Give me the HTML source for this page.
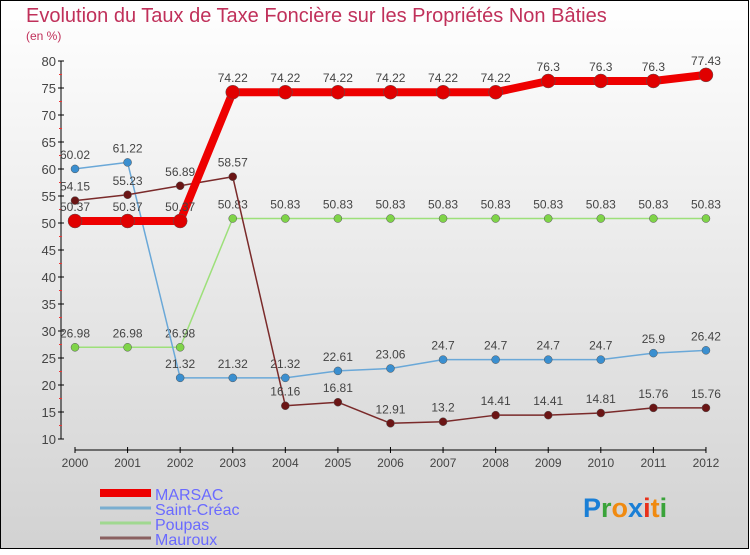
<!DOCTYPE html>
<html><head><meta charset="utf-8"><style>
html,body{margin:0;padding:0}
body{width:750px;height:550px;overflow:hidden;font-family:"Liberation Sans",sans-serif}
</style></head><body>
<svg width="750" height="550" xmlns="http://www.w3.org/2000/svg">
<defs><linearGradient id="bg" x1="0" y1="0" x2="0" y2="1"><stop offset="0" stop-color="#ffffff"/><stop offset="1" stop-color="#d2d2d2"/></linearGradient></defs>
<rect x="0.5" y="0.5" width="748" height="548" fill="url(#bg)" stroke="#000"/>
<text x="26" y="22" font-size="20" fill="#c0305a">Evolution du Taux de Taxe Foncière sur les Propriétés Non Bâties</text>
<text x="26" y="40" font-size="12" fill="#c0305a">(en %)</text>
<g id="axes"></g>
<g id="series"></g>
<g id="legend"></g>
<text x="583" y="517" font-size="27" font-weight="bold"><tspan fill="#1a7fd6">P</tspan><tspan fill="#3aa33a">r</tspan><tspan fill="#f08a10">o</tspan><tspan fill="#1a7fd6">x</tspan><tspan fill="#e8301a">i</tspan><tspan fill="#f08a10">t</tspan><tspan fill="#3aa33a">i</tspan></text>
</svg>
<script>
const years=[2000,2001,2002,2003,2004,2005,2006,2007,2008,2009,2010,2011,2012];
const yTicks=[10,15,20,25,30,35,40,45,50,55,60,65,70,75,80];
const marsac=[50.37,50.37,50.37,74.22,74.22,74.22,74.22,74.22,74.22,76.3,76.3,76.3,77.43];
const saintCreac=[60.02,61.22,21.32,21.32,21.32,22.61,23.06,24.7,24.7,24.7,24.7,25.9,26.42];
const poupas=[26.98,26.98,26.98,50.83,50.83,50.83,50.83,50.83,50.83,50.83,50.83,50.83,50.83];
const mauroux=[54.15,55.23,56.89,58.57,16.16,16.81,12.91,13.2,14.41,14.41,14.81,15.76,15.76];
const NS="http://www.w3.org/2000/svg";
const xs=i=>75+i*52.58;
const ys=v=>61+(80-v)*5.4;
function mk(tag,attrs,parent,txt){const e=document.createElementNS(NS,tag);for(const k in attrs)e.setAttribute(k,attrs[k]);if(txt!==undefined)e.textContent=txt;parent.appendChild(e);return e;}
const ax=document.getElementById('axes');
let yl=mk('line',{x1:61,y1:ys(80),x2:61,y2:ys(10),stroke:'#000'},ax);


yTicks.forEach(v=>{
 mk('line',{x1:58,x2:64,y1:ys(v),y2:ys(v),stroke:'#000'},ax);
 if(v<80)mk('line',{x1:59,x2:62,y1:ys(v+2.5),y2:ys(v+2.5),stroke:'#e33'},ax);
 const t=mk('text',{x:56,y:ys(v)+5,'font-size':13,'text-anchor':'end',fill:'#444'},ax,v);
 
 
});
let xl=mk('line',{x1:75,y1:450,x2:xs(12),y2:450,stroke:'#000'},ax);


years.forEach((y,i)=>{
 mk('line',{x1:xs(i),x2:xs(i),y1:447,y2:453,stroke:'#000'},ax);
 const t=mk('text',{x:xs(i),y:467,'font-size':12,'text-anchor':'middle',fill:'#444'},ax,y);
 
 
});
const sg=document.getElementById('series');
function series(data,name,color,w,r,dot){
 const g=mk('g',{},sg);
 
 
 const p=mk('polyline',{points:data.map((v,i)=>xs(i)+','+ys(v)).join(' '),fill:'none',stroke:color,'stroke-width':w,'stroke-linejoin':'round'},g);
 
 
 data.forEach((v,i)=>{
  const c=mk('circle',{cx:xs(i),cy:ys(v),r:r,fill:dot,stroke:'#555','stroke-width':0.5},g);
  
  
  const t=mk('text',{x:xs(i),y:ys(v)-10,'font-size':12,'text-anchor':'middle',fill:'#444'},g,String(v));
  
  
 });
}
series(poupas,'poupas','#9de07a',1.5,4,'#7fd448');
series(saintCreac,'saint-creac','#6aa8d8',1.5,4,'#3a8fd0');
series(mauroux,'mauroux','#7a2a2a',1.5,4,'#6b1515');
series(marsac,'marsac','#ee0000',8,7,'#e00000');
const lg=document.getElementById('legend');
const leg=[['MARSAC','#ee0000',8],['Saint-Créac','#7aaed0',3],['Poupas','#a0d890',3],['Mauroux','#8a6060',3]];
leg.forEach((l,i)=>{
 const y=493+i*15;
 const g=mk('g',{},lg);
 
 
 mk('line',{x1:100,x2:151,y1:y,y2:y,stroke:l[1],'stroke-width':l[2]},g);
 mk('text',{x:155,y:y+7,'font-size':16,fill:'#6a6aff'},g,l[0]);
});
</script>
</body></html>
